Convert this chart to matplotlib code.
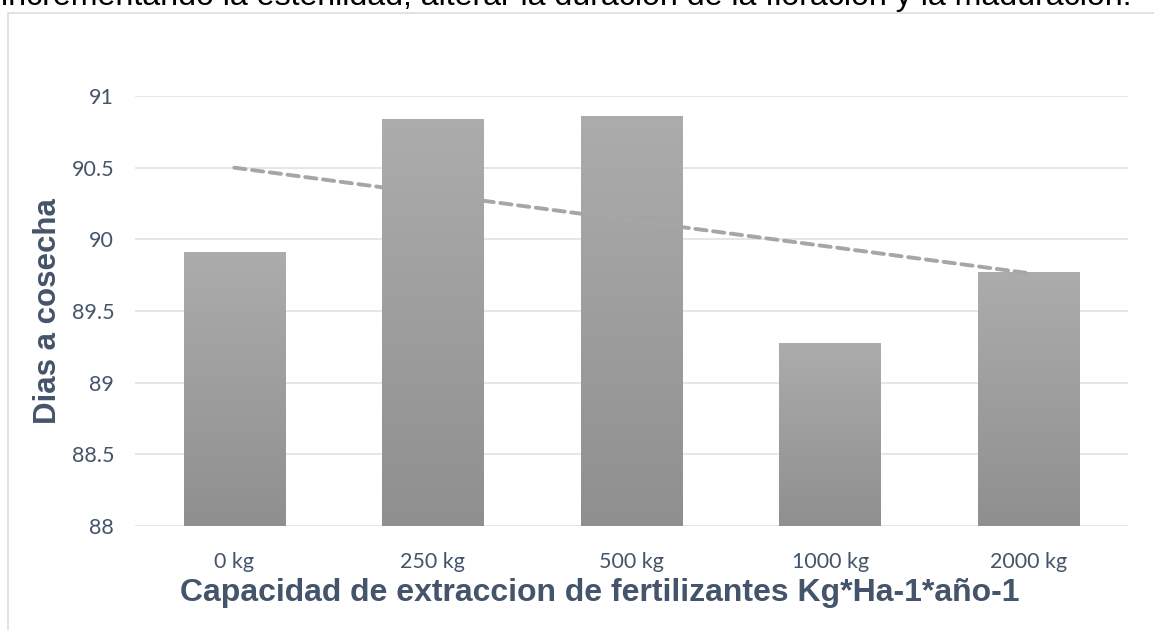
# Dias a cosecha vs capacidad de extraccion de fertilizantes
import numpy as np
import matplotlib.pyplot as plt
from matplotlib.patches import Rectangle

# DATA
categorias = ["0 kg", "250 kg", "500 kg", "1000 kg", "2000 kg"]
dias = [89.91, 90.84, 90.86, 89.28, 89.77]
y_ticks = [88, 88.5, 89, 89.5, 90, 90.5, 91]
y_tick_labels = ["88", "88.5", "89", "89.5", "90", "90.5", "91"]

texto_arriba = "incrementando la esterilidad, alterar la duración de la floración y la maduración."

W, H = 1154, 630
fig = plt.figure(figsize=(W / 100, H / 100), dpi=100)

# chart frame (goes past the right and bottom edges)
fig.patches.append(Rectangle((8 / W, -0.1), 1.2, 1 - 13 / H + 0.1, transform=fig.transFigure,
                             fill=False, edgecolor="#d9dde3", linewidth=1.2))

# cut text at the very top (it is cut in the original too)
fig.text(1 / W, 1 - 5 / H, texto_arriba, ha="left", va="baseline",
         fontsize=23.1, family="Liberation Sans", color="black")

ax = fig.add_axes([135 / W, 1 - 526 / H, (1128 - 135) / W, (526 - 96) / H])

x = np.arange(len(categorias))
bars = ax.bar(x, dias, width=0.51, bottom=0, color="#a0a0a0", zorder=2)

# vertical gradient on each bar
cmap = plt.matplotlib.colors.LinearSegmentedColormap.from_list("g", ["#8f8f8f", "#acacac"])
grad = np.linspace(0, 1, 256).reshape(-1, 1)
for b in bars:
    x0, w = b.get_x(), b.get_width()
    top = b.get_height()
    b.set_facecolor("none")
    im = ax.imshow(grad, cmap=cmap, extent=[x0, x0 + w, 88, top],
                   origin="lower", aspect="auto", zorder=2)
    im.set_clip_path(b)

# linear trendline
coef = np.polyfit(x, dias, 1)
ax.plot(x, np.polyval(coef, x), color="#a6a6a6", linewidth=2.8,
        linestyle=(0, (2.9, 1.7)), dash_capstyle="round", zorder=3)

ax.set_xlim(-0.5, len(categorias) - 0.5)
ax.set_ylim(88, 91)
ax.set_yticks(y_ticks)
ax.set_yticklabels(y_tick_labels)
ax.set_xticks(x)
ax.set_xticklabels(categorias)
ax.grid(axis="y", color="#dde2ea", linewidth=1.2, zorder=0)
ax.set_axisbelow(True)
for s in ax.spines.values():
    s.set_visible(False)
ax.tick_params(length=0, labelsize=15.5, labelcolor="#44546a")
ax.tick_params(axis="y", pad=15)
ax.tick_params(axis="x", pad=19)
for t in ax.get_xticklabels() + ax.get_yticklabels():
    t.set_family("Lato")

ax.set_xlabel("Capacidad de extraccion de fertilizantes Kg*Ha-1*año-1", fontsize=23,
              fontweight="bold", color="#44546a", family="Liberation Sans")
ax.xaxis.label.set_va("center")
ax.xaxis.set_label_coords((600 - 135) / 993, -(593 - 526) / 430)
ax.set_ylabel("Dias a cosecha", fontsize=22.5, fontweight="bold", color="#44546a",
              family="Liberation Sans")
ax.yaxis.set_label_coords(-(135 - 48) / 993, 0.5)
ax.yaxis.label.set_va("center")

fig.savefig("out.png", dpi=100)
